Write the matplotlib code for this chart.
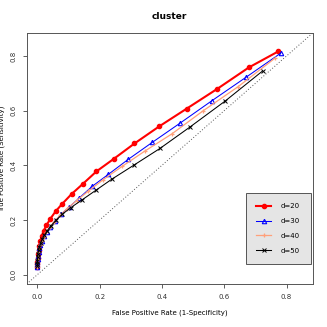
import matplotlib
matplotlib.use("Agg")
import matplotlib.pyplot as plt

# ROC points, per cluster size d
fpr_d20 = [0.774, 0.679, 0.578, 0.479, 0.392, 0.312, 0.247, 0.190, 0.147, 0.110, 0.079,
           0.059, 0.042, 0.029, 0.020, 0.014, 0.009, 0.006, 0.004, 0.002, 0.001, 0.0005, 0.0002, 0.0]
tpr_d20 = [0.817, 0.758, 0.680, 0.607, 0.543, 0.480, 0.425, 0.378, 0.333, 0.295, 0.258,
           0.232, 0.205, 0.180, 0.160, 0.140, 0.122, 0.105, 0.090, 0.075, 0.060, 0.048, 0.038, 0.030]

fpr_d30 = [0.781, 0.671, 0.560, 0.459, 0.369, 0.292, 0.228, 0.177, 0.134, 0.102, 0.077,
           0.058, 0.042, 0.031, 0.022, 0.015, 0.010, 0.006, 0.004, 0.002, 0.001, 0.0005, 0.0002, 0.0]
tpr_d30 = [0.810, 0.723, 0.636, 0.555, 0.484, 0.422, 0.367, 0.324, 0.280, 0.247, 0.222,
           0.196, 0.175, 0.156, 0.140, 0.124, 0.110, 0.096, 0.083, 0.070, 0.058, 0.047, 0.038, 0.030]

fpr_d40 = [0.763, 0.645, 0.533, 0.432, 0.345, 0.272, 0.212, 0.164, 0.126, 0.096, 0.073,
           0.055, 0.040, 0.029, 0.021, 0.014, 0.009, 0.006, 0.003, 0.002, 0.001, 0.0004, 0.0001, 0.0]
tpr_d40 = [0.792, 0.688, 0.600, 0.515, 0.452, 0.396, 0.348, 0.306, 0.271, 0.242, 0.217,
           0.194, 0.173, 0.155, 0.139, 0.124, 0.110, 0.096, 0.082, 0.069, 0.057, 0.046, 0.037, 0.030]

fpr_d50 = [0.723, 0.604, 0.491, 0.394, 0.309, 0.240, 0.187, 0.144, 0.107, 0.080, 0.060,
           0.044, 0.032, 0.023, 0.016, 0.011, 0.007, 0.004, 0.002, 0.001, 0.0005, 0.0002, 0.0]
tpr_d50 = [0.745, 0.636, 0.541, 0.462, 0.400, 0.350, 0.308, 0.274, 0.245, 0.221, 0.199,
           0.179, 0.161, 0.145, 0.130, 0.116, 0.102, 0.089, 0.076, 0.063, 0.051, 0.040, 0.032]

labels = ['d=20', 'd=30', 'd=40', 'd=50']
ticks = [0.0, 0.2, 0.4, 0.6, 0.8]

fig = plt.figure(figsize=(3.27, 3.27), dpi=100)
ax = fig.add_axes([0.0817, 0.1315, 0.8745, 0.7675])

ax.plot(fpr_d20, tpr_d20, color='red', lw=1.5, marker='o', ms=3, label=labels[0])
ax.plot(fpr_d30, tpr_d30, color='blue', lw=0.75, marker='^', ms=3.2, mfc='none', mew=0.8, label=labels[1])
ax.plot(fpr_d40, tpr_d40, color='#ffa07a', lw=0.9, marker='+', ms=3.5, mew=0.9, label=labels[2])
ax.plot(fpr_d50, tpr_d50, color='black', lw=0.75, marker='x', ms=2.5, mew=0.7, label=labels[3])

ax.axline((0, 0), slope=1, color='#555555', lw=0.7, ls=(0, (1, 2)))

ax.set_xlim(-0.034, 0.884)
ax.set_ylim(-0.034, 0.884)
ax.set_xticks(ticks)
ax.set_yticks(ticks)
ax.set_xticklabels(['%.1f' % t for t in ticks], fontsize=5, color='#333333')
ax.set_yticklabels(['%.1f' % t for t in ticks], fontsize=5, color='#333333', rotation=90, va='center')
ax.tick_params(length=3, width=0.6, color='#444444', pad=4)
for s in ax.spines.values():
    s.set_linewidth(0.7)
    s.set_color('#555555')

ax.set_title('cluster', fontsize=6.5, fontweight='bold', pad=10)
ax.set_xlabel('False Positive Rate (1-Specificity)', fontsize=5, labelpad=7)
ax.set_ylabel('True Positive Rate (Sensitivity)', fontsize=5, labelpad=4)

leg = ax.legend(loc='lower right', bbox_to_anchor=(0.993, 0.08), fontsize=5,
                fancybox=False, framealpha=1, facecolor='#e5e5e5', edgecolor='#555555',
                handlelength=2.2, borderpad=1.5, labelspacing=1.25, handletextpad=1.4,
                borderaxespad=0)
leg.get_frame().set_linewidth(0.7)

fig.savefig('out.png', dpi=100)
